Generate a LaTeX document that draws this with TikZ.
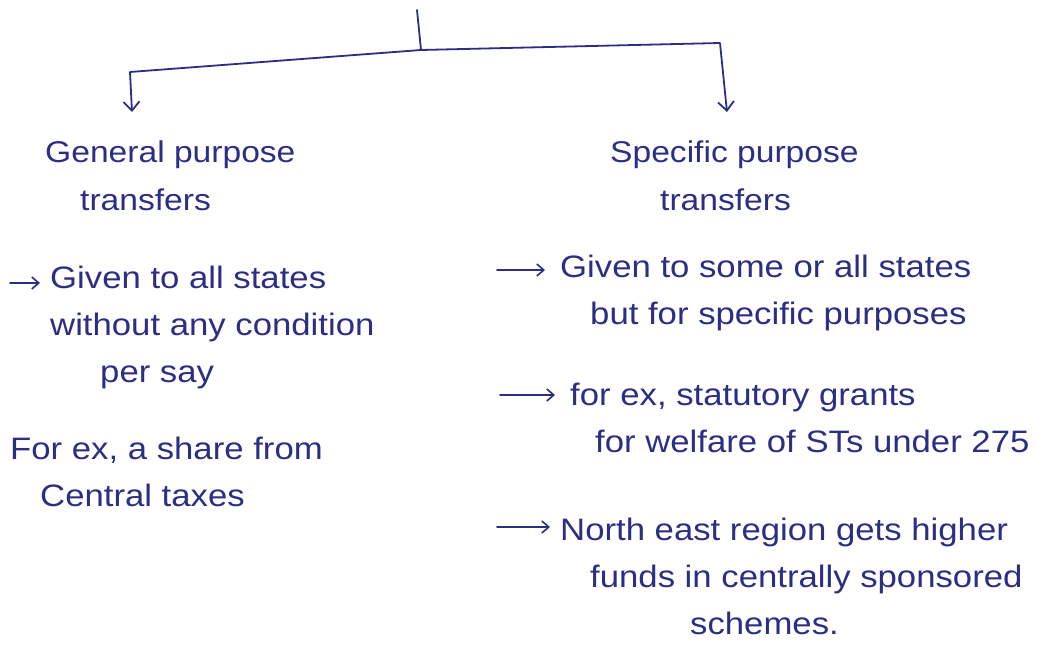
\documentclass[tikz,border=0pt]{standalone}
\usepackage{fontspec}
\setmainfont{Liberation Sans}[FakeStretch=1.12]
\usetikzlibrary{arrows.meta}
\definecolor{ink}{RGB}{44,46,132}
\begin{document}
\begin{tikzpicture}[x=1pt,y=-1pt,
  pen/.style={draw=ink,line width=1.8pt,line cap=round,line join=round},
  tip/.style={-{Straight Barb[length=9pt,width=16pt,line width=1.8pt]}},
  head/.style={text=ink,font=\fontsize{30}{48}\selectfont,align=left,inner sep=0pt,anchor=west},
  item/.style={text=ink,font=\fontsize{31}{47}\selectfont,align=left,inner sep=0pt,anchor=west},
  bullet/.style={pen,-{Straight Barb[length=7pt,width=12pt,line width=1.6pt]}}]
  \fill[white] (0,0) rectangle (1042,652);
  \useasboundingbox (0,0) rectangle (1042,652);

  % tree stem and its two branches
  \coordinate (top) at (417,10);
  \coordinate (fork) at (421,50);
  \node[head] (gen) at (45,176) {General purpose\\\hspace*{35pt}transfers};
  \node[head] (spec) at (610,176) {Specific purpose\\\hspace*{50pt}transfers};
  \draw[pen] (top) -- (fork);
  \draw[pen,tip] (fork) -- (130,72) -- (132,112);
  \draw[pen,tip] (fork) -- (720,43) -- (727,112);

  % general purpose transfers
  \node[item] (g1) at (50,327) {Given to all states\\without any condition\\\hspace*{50pt}per say};
  \node[item] (g2) at (10,472) {For ex, a share from\\\hspace*{30pt}Central taxes};
  \coordinate (g1a) at (10,283);
  \draw[bullet] (g1a) -- (40,283);

  % specific purpose transfers
  \node[item] (s1) at (560,293) {Given to some or all states\\\hspace*{30pt}but for specific purposes};
  \node[item] (s2) at (570,418) {for ex, statutory grants\\\hspace*{25pt}for welfare of STs under 275};
  \node[item] (s3) at (560,576) {North east region gets higher\\\hspace*{30pt}funds in centrally sponsored\\\hspace*{130pt}schemes.};
  \coordinate (s1a) at (497,270);
  \coordinate (s2a) at (500,395);
  \coordinate (s3a) at (497,527);
  \draw[bullet] (s1a) -- (545,270);
  \draw[bullet] (s2a) -- (555,395);
  \draw[bullet] (s3a) -- (550,527);
\end{tikzpicture}
\end{document}
